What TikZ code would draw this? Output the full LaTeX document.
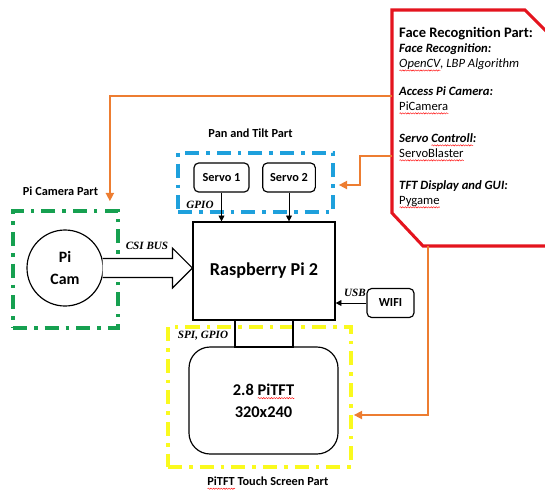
\documentclass[tikz,border=0pt]{standalone}
\usepackage{fontspec}
\setmainfont{Carlito}
\newfontfamily\tnr{Liberation Serif}
\usepackage{xcolor}
\usetikzlibrary{arrows.meta,positioning,calc,decorations.pathmorphing}

\definecolor{camgreen}{RGB}{22,160,80}
\definecolor{panblue}{RGB}{30,160,220}
\definecolor{tftyellow}{RGB}{250,250,30}
\definecolor{linkorange}{RGB}{237,125,49}
\definecolor{facered}{RGB}{228,20,30}

% red wavy underline as in the word-processor original
\newsavebox{\spellbox}
\newcommand{\spell}[1]{\sbox{\spellbox}{#1}%
  \rlap{\raisebox{-2.6pt}{\tikz[x=1pt,y=1pt,baseline=0pt,sharp corners]
    \draw[red, line width=0.35pt, decorate, decoration={snake, amplitude=0.55pt, segment length=2.2pt}]
      (0,0) -- (\the\wd\spellbox,0);}}\usebox{\spellbox}}

\begin{document}
\begin{tikzpicture}[x=0.03cm, y=-0.03cm,
      part/.style={draw, line width=3.2pt, dash pattern=on 12pt off 6pt on 3pt off 6pt},
      box/.style={draw, line width=1pt, rounded corners=4pt, minimum height=0.87cm,
        font=\bfseries\fontsize{10.5}{12}\selectfont},
      board/.style={draw, line width=1pt, align=center},
      caption/.style={font=\bfseries\fontsize{10.5}{12}\selectfont},
      bus/.style={font=\tnr\bfseries\itshape\fontsize{9.5}{10}\selectfont},
      sig/.style={-{Triangle[length=5pt,width=5pt]}, line width=0.7pt},
      link/.style={-{Triangle[length=7pt,width=7pt]}, draw=linkorange, line width=1.3pt}
    ]
    \useasboundingbox (0,0) rectangle (545,492);
    \clip (0,0) rectangle (545,492);

    % frames of the parts
    \node[part, draw=camgreen, minimum width=3.15cm, minimum height=3.51cm] (camframe) at (65.5,269.5) {};
    \node[part, draw=panblue, minimum width=4.65cm, minimum height=1.77cm] (panframe) at (255.5,182.5) {};
    \node[part, draw=tftyellow, minimum width=5.49cm, minimum height=4.2cm] (tftframe) at (259.5,397) {};

    \node[caption, above=0.28cm of camframe, xshift=-0.15cm] (camcap) {Pi Camera Part};
    \node[caption, above=0.28cm of panframe, xshift=-0.15cm] (pancap) {Pan and Tilt Part};
    \node[caption, below=0.12cm of tftframe, xshift=0.25cm] (tftcap) {\spell{PiTFT} Touch Screen Part};

    % boards and devices
    \node[board, minimum width=4.26cm, minimum height=2.94cm,
      font=\bfseries\fontsize{15.5}{18}\selectfont] (rpi) at (264,271) {Raspberry Pi 2};
    \node[board, minimum width=1.74cm, minimum height=0.81cm] (hdr) at (264,333.5) {};
    \node[board, rounded corners=18pt, minimum width=4.47cm, minimum height=3.21cm,
      font=\bfseries\fontsize{14}{19}\selectfont] (tft) at (263.5,400.5) {2.8 \spell{PiTFT}\\320x240};
    \node[circle, draw, line width=1pt, minimum size=2.28cm, align=center,
      font=\bfseries\fontsize{13.5}{19}\selectfont] (picam) at (65,268) {Pi\\Cam};
    \node[box, minimum width=1.65cm] (servo1) at (221.5,177.5) {Servo 1};
    \node[box, minimum width=1.58cm] (servo2) at (289,177.5) {Servo 2};
    \node[box, minimum width=1.41cm] (wifi) at (390.5,303) {WIFI};

    % bus labels
    \node[bus] (gpio) at (200,205) {GPIO};
    \node[bus] (csi) at (147,246) {CSI BUS};
    \node[bus] (usb) at (355,293) {USB};
    \node[bus] (spi) at (203,336) {SPI, GPIO};

    \draw[sig] (servo1) -- (servo1 |- rpi.north);
    \draw[sig] (servo2) -- (servo2 |- rpi.north);
    \draw[sig] (wifi) -- (rpi.east |- wifi);

    \coordinate (csitip) at (rpi.west |- picam);
    \draw[line width=1pt, fill=white] ($(picam.east)+(-1,-9.5)$) -- ($(csitip)+(-20,-9.5)$)
      -- ($(csitip)+(-20,-20)$) -- (csitip) -- ($(csitip)+(-20,20)$)
      -- ($(csitip)+(-20,9.5)$) -- ($(picam.east)+(-1,9.5)$);

    % face recognition part
    \draw[facered, line width=2.6pt] (620,246) -- (423,246) -- (392,213) -- (392,10)
      -- (525,10) -- (575,60);
    \node[anchor=north west, align=left, inner sep=0pt,
      font=\fontsize{10.8}{12.8}\selectfont] (face) at (399,27) {%
      {\bfseries\fontsize{12.4}{12.8}\selectfont Face Recognition Part:}\\
      {\bfseries\itshape Face Recognition:}\\
      {\itshape \spell{OpenCV}, LBP Algorithm}\\[11pt]
      {\bfseries\itshape Access Pi Camera:}\\
      \spell{PiCamera}\\[14.5pt]
      {\bfseries\itshape Servo \spell{Controll}:}\\
      \spell{ServoBlaster}\\[14.5pt]
      {\bfseries\itshape TFT Display and GUI:}\\
      \spell{Pygame}};

    \coordinate (camlink) at (392,96);
    \coordinate (servolink) at (392,156);
    \coordinate (tftlink) at (428,246);
    \coordinate (camin) at ($(camframe.north east)+(-10,-8)$);

    \draw[link] (camlink) -| (camin);
    \draw[link] (servolink) -- ++(-32,0) |- ($(panframe.east)+(4,2.5)$);
    \draw[link] (tftlink) |- ($(tftframe.east)+(1,18)$);
  \end{tikzpicture}
\end{document}
